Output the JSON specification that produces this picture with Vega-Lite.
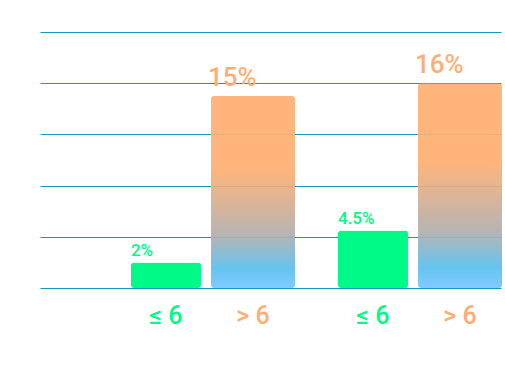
{
  "$schema": "https://vega.github.io/schema/vega-lite/v6.json",
  "width": 461,
  "height": 256,
  "autosize": {"type": "none"},
  "padding": {"left": 40, "top": 32, "right": 4, "bottom": 80},
  "background": "white",
  "config": {"view": {"stroke": null}, "font": "Roboto"},
  "data": {
    "values": [
      {"group": "A", "cat": "≤ 6", "value": 2, "label": "2%"},
      {"group": "A", "cat": "> 6", "value": 15, "label": "15%"},
      {"group": "B", "cat": "≤ 6", "value": 4.5, "label": "4.5%"},
      {"group": "B", "cat": "> 6", "value": 16, "label": "16%"}
    ]
  },
  "encoding": {
    "x": {
      "field": "group", "type": "nominal",
      "scale": {"paddingInner": 0, "paddingOuter": 0.1135, "align": 1},
      "axis": null
    },
    "xOffset": {
      "field": "cat", "type": "nominal", "sort": ["≤ 6", "> 6"],
      "scale": {"paddingInner": 0.0272, "paddingOuter": 0.0962, "align": 1}
    },
    "y": {
      "field": "value", "type": "quantitative",
      "scale": {"domain": [0, 20], "nice": false},
      "axis": {
        "values": [0, 4, 8, 12, 16, 20], "grid": true, "gridColor": "#1596BE", "gridOpacity": 1,
        "labels": false, "ticks": false, "domain": false, "title": null
      }
    }
  },
  "layer": [
    {
      "transform": [{"filter": "datum.cat === '≤ 6'"}],
      "mark": {"type": "bar", "color": "#00FA87", "cornerRadius": 3, "width": {"band": 0.7527}}
    },
    {
      "transform": [{"filter": "datum.cat === '> 6'"}],
      "mark": {
        "type": "bar", "cornerRadius": 3, "width": {"band": 0.9032}, "opacity": 0.92,
        "color": {
          "gradient": "linear", "x1": 0, "y1": 0, "x2": 0, "y2": 1,
          "stops": [
            {"offset": 0, "color": "#FFAE70"},
            {"offset": 0.38, "color": "#FFAE70"},
            {"offset": 0.72, "color": "#B2AEAC"},
            {"offset": 0.9, "color": "#58BFEE"},
            {"offset": 1, "color": "#74C6FF"}
          ]
        }
      }
    },
    {
      "transform": [{"filter": "datum.cat === '≤ 6'"}],
      "mark": {"type": "text", "align": "left", "baseline": "alphabetic", "dx": -21, "dy": -6.5, "fontSize": 17, "fontWeight": 500, "color": "#00FA87"},
      "encoding": {"text": {"field": "label"}}
    },
    {
      "transform": [{"filter": "datum.cat === '> 6'"}],
      "mark": {"type": "text", "align": "left", "baseline": "alphabetic", "dx": -39.5, "dy": -10, "fontSize": 26, "fontWeight": 500, "color": "#FFAE73"},
      "encoding": {"text": {"field": "label"}}
    },
    {
      "transform": [{"filter": "datum.cat === '≤ 6'"}],
      "mark": {"type": "text", "align": "center", "baseline": "middle", "dx": 14, "dy": 1, "fontSize": 25, "fontWeight": 500, "color": "#00FA87"},
      "encoding": {"y": {"datum": -2.1}, "text": {"field": "cat"}}
    },
    {
      "transform": [{"filter": "datum.cat === '> 6'"}],
      "mark": {"type": "text", "align": "center", "baseline": "middle", "dx": 5.5, "dy": 1, "fontSize": 25, "fontWeight": 500, "color": "#FFAE73"},
      "encoding": {"y": {"datum": -2.1}, "text": {"field": "cat"}}
    }
  ]
}
